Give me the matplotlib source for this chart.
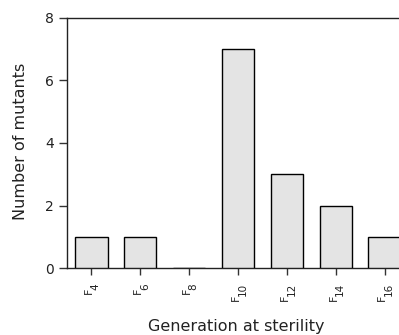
import matplotlib
matplotlib.use("Agg")
import matplotlib.pyplot as plt
from matplotlib.transforms import ScaledTranslation

generations = [4, 6, 8, 10, 12, 14, 16]
mutants = [1, 1, 0, 7, 3, 2, 1]
gen_prefix = "F"

plt.rcParams['font.family'] = ['DejaVu Sans']

DPI = 100
fig = plt.figure(figsize=(3.99, 3.35), dpi=DPI)
ax = fig.add_axes([67/399, 67/335, 342/399, 250/335])

x = list(range(len(generations)))
ax.bar(x, mutants, width=0.66, color='#e4e4e4', edgecolor='black', linewidth=1.0, zorder=3)

ax.set_xlim(-0.5, 6.5)
ax.set_ylim(0, 8)
ax.set_yticks([0, 2, 4, 6, 8])
ax.set_xticks(x)
ax.set_xticklabels([""] * len(x))
ax.tick_params(axis='y', labelsize=10, length=6, width=1, pad=3.5, color='#333333', labelcolor='#222222')
ax.tick_params(axis='x', length=5, width=1, pad=0, color='#333333')

ax.spines['right'].set_visible(False)
for s in ['left', 'top', 'bottom']:
    ax.spines[s].set_linewidth(1.0)
    ax.spines[s].set_color('#222222')

ax.set_ylabel('Number of mutants', fontsize=11.5, color='#222222')
ax.yaxis.label.set_va('baseline')
ax.yaxis.set_label_coords(-42/342, 0.505)
ax.set_xlabel('Generation at sterility', fontsize=11.5, color='#222222')
ax.xaxis.label.set_va('baseline')
ax.xaxis.set_label_coords(0.496, -63.5/250)


def px_offset(dx, dy):
    return ax.get_xaxis_transform() + ScaledTranslation(dx / DPI, dy / DPI, fig.dpi_scale_trans)

# tick labels: F with subscripted generation number, rotated 90
digit_texts = []
for xi, g in zip(x, generations):
    t = ax.text(xi, 0, str(g), rotation=90, rotation_mode='anchor',
                ha='right', va='baseline', fontsize=7.5, color='#222222',
                transform=px_offset(7.5, -15))
    digit_texts.append(t)

fig.canvas.draw()
renderer = fig.canvas.get_renderer()
ax_bottom_px = ax.get_window_extent(renderer).y0
for xi, t in zip(x, digit_texts):
    bb = t.get_window_extent(renderer)
    dy = (bb.y0 + 1.5) - ax_bottom_px
    ax.text(xi, 0, gen_prefix, rotation=90, rotation_mode='anchor',
            ha='right', va='baseline', fontsize=8, color='#222222',
            transform=px_offset(0.8, dy))

fig.savefig('out.png', dpi=DPI)
